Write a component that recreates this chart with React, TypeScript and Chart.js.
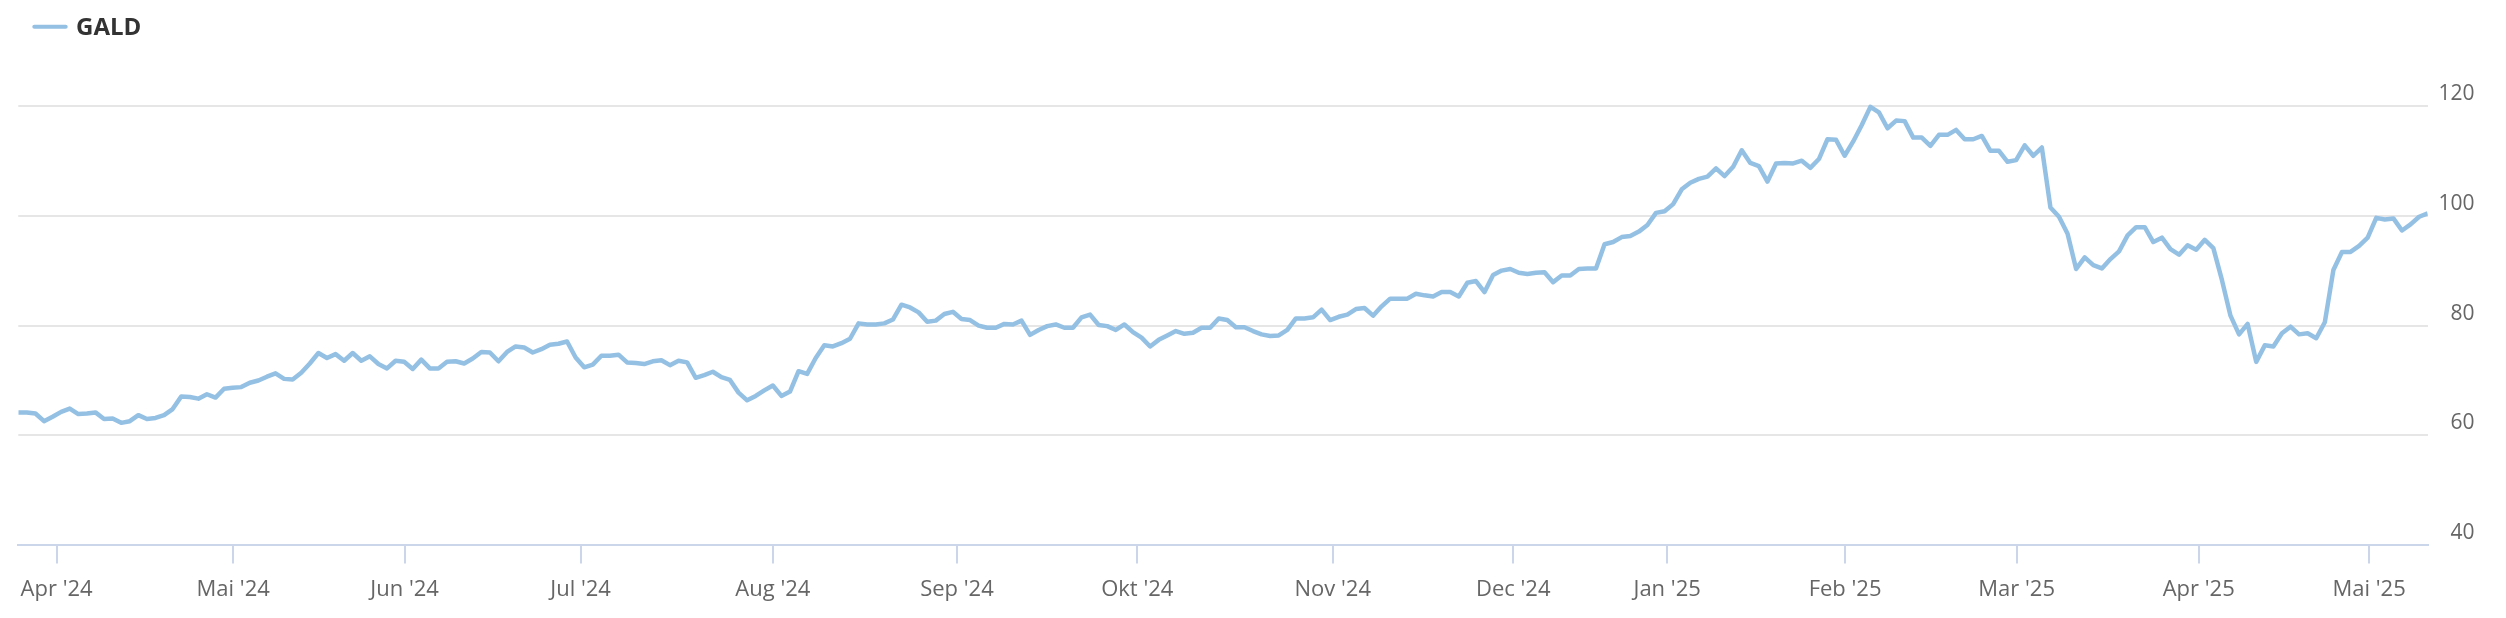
import React, { useEffect, useRef } from 'react';
import { Chart, registerables } from 'chart.js';

Chart.register(...registerables);

const seriesName = 'GALD';

const prices: number[] = [
  64.2, 64.2, 64.0, 62.6, 63.4, 64.3, 64.9, 63.9, 64.0, 64.2,
  63.0, 63.1, 62.3, 62.6, 63.7, 63.0, 63.2, 63.7, 64.8, 67.1,
  67.0, 66.7, 67.5, 66.9, 68.5, 68.7, 68.8, 69.6, 70.0, 70.7,
  71.3, 70.3, 70.2, 71.4, 73.1, 75.0, 74.1, 74.8, 73.6, 75.0,
  73.6, 74.4, 73.0, 72.2, 73.6, 73.4, 72.1, 73.8, 72.2, 72.2,
  73.4, 73.5, 73.1, 74.0, 75.2, 75.1, 73.5, 75.2, 76.2,
  76.0, 75.1, 75.7, 76.5, 76.7, 77.1, 74.2, 72.4, 72.9, 74.5,
  74.5, 74.7, 73.3, 73.2, 73.0, 73.5, 73.7, 72.8, 73.6, 73.3,
  70.5, 71.0, 71.6, 70.6, 70.1, 67.8, 66.4, 67.2, 68.2, 69.1,
  67.2, 68.0, 71.7, 71.2, 74.1, 76.4, 76.2, 76.8, 77.6, 80.4,
  80.2, 80.2, 80.4, 81.1, 83.8, 83.3, 82.4, 80.7, 80.9, 82.1,
  82.5, 81.2, 81.0, 80.0, 79.6, 79.6, 80.3, 80.2, 80.9, 78.3,
  79.2, 79.9, 80.2, 79.6, 79.6, 81.5, 82.0, 80.1, 79.9, 79.2,
  80.2, 78.8, 77.8, 76.2, 77.4, 78.2, 79.0, 78.5, 78.7, 79.6,
  79.6, 81.3, 81.0, 79.7, 79.7, 79.0, 78.4, 78.1, 78.2, 79.2,
  81.3, 81.3, 81.5, 82.9, 81.0, 81.6, 82.0, 83.0, 83.2, 81.8,
  83.5, 84.9, 84.9, 84.9, 85.8, 85.5, 85.3, 86.1, 86.1, 85.3,
  87.8, 88.1, 86.1,
  89.2, 90.0, 90.3, 89.6, 89.4,
  89.6, 89.7, 87.9, 89.1, 89.1, 90.3, 90.4, 90.4, 94.8, 95.2,
  96.1, 96.3, 97.1, 98.3, 100.5, 100.8, 102.1, 104.8, 106.0, 106.7,
  107.1, 108.6, 107.2, 108.9, 111.9, 109.6, 109.0, 106.2, 109.5, 109.6,
  109.5, 110.0, 108.7, 110.3, 113.9, 113.8, 110.9, 113.5, 116.5, 119.8,
  118.8, 115.9, 117.3, 117.2, 114.2, 114.2, 112.7, 114.7, 114.7, 115.6,
  113.9, 113.9, 114.5, 111.8, 111.8, 109.8, 110.1, 112.8, 110.9, 112.4,
  101.5, 99.8, 96.7, 90.3, 92.4, 91.0, 90.4, 92.1, 93.5, 96.4,
  97.9, 97.9, 95.2, 96.0, 93.9, 92.9, 94.6, 93.8, 95.6, 94.1,
  88.3, 81.8, 78.4, 80.3, 73.4, 76.4, 76.2, 78.6, 79.8, 78.4,
  78.6, 77.7, 80.6, 90.1, 93.4, 93.4, 94.5, 96.0, 99.6, 99.3,
  99.5, 97.3, 98.4, 99.8, 100.4,
];

const xTickPositions: number[] = [4.47, 25.06, 45.05, 65.58, 88.0, 109.47, 130.5, 153.3, 174.35, 192.3, 213.05, 233.06, 254.29, 274.17];
const xTickLabels: string[] = ["Apr '24", "Mai '24", "Jun '24", "Jul '24", "Aug '24", "Sep '24", "Okt '24", "Nov '24", "Dec '24", "Jan '25", "Feb '25", "Mar '25", "Apr '25", "Mai '25"];
const yTickValues: number[] = [40, 60, 80, 100, 120];

const W = 2506;
const H = 618;
const PLOT_LEFT = 18.3;
const PLOT_RIGHT = 2427.7;
const PLOT_BOTTOM = 545.4;
const Y_MIN = 40;
const Y_MAX = 139.24;
const Y_LABEL_RIGHT = 2474.5;
const Y_LABEL_RAISE = 12;
const FONT = "'Open Sans', sans-serif";
const LINE_COLOR = '#94c0e4';
const Y_FONT_SIZE = 21;
const X_FONT_SIZE = 22;

const overlayPlugin = {
  id: 'legendAndYLabels',
  afterDraw(chart: any) {
    const ctx = chart.ctx as CanvasRenderingContext2D;
    ctx.save();
    // legend
    ctx.strokeStyle = LINE_COLOR;
    ctx.lineWidth = 4;
    ctx.lineCap = 'round';
    ctx.beginPath();
    ctx.moveTo(34.3, 26.7);
    ctx.lineTo(65.7, 26.7);
    ctx.stroke();
    ctx.fillStyle = '#333333';
    ctx.font = `bold 24px ${FONT}`;
    ctx.textAlign = 'left';
    ctx.textBaseline = 'alphabetic';
    ctx.fillText(chart.data.datasets[0].label, 76, 35);
    // y-axis labels, placed through the y scale
    const yScale = chart.scales.y;
    ctx.fillStyle = '#666666';
    ctx.font = `${Y_FONT_SIZE}px ${FONT}`;
    ctx.textAlign = 'right';
    ctx.textBaseline = 'middle';
    yScale.ticks.forEach((t: any) => {
      const py = yScale.getPixelForValue(t.value) - Y_LABEL_RAISE;
      ctx.fillText(String(t.value), Y_LABEL_RIGHT, py);
    });
    ctx.restore();
  },
};

export default function App() {
  const canvasRef = useRef<HTMLCanvasElement | null>(null);

  useEffect(() => {
    const canvas = canvasRef.current;
    if (!canvas) return;

    const chart = new Chart(canvas, {
      type: 'line',
      data: {
        datasets: [
          {
            label: seriesName,
            data: prices.map((v, i) => ({ x: i, y: v })),
            borderColor: LINE_COLOR,
            borderWidth: 4.5,
            borderJoinStyle: 'round',
            pointRadius: 0,
            fill: false,
            tension: 0,
          },
        ],
      },
      options: {
        responsive: false,
        animation: false,
        devicePixelRatio: 1,
        layout: { padding: { left: PLOT_LEFT, right: 0, top: 0, bottom: 0 } },
        plugins: { legend: { display: false }, tooltip: { enabled: false } },
        scales: {
          x: {
            type: 'linear',
            position: 'bottom',
            min: 0,
            max: prices.length - 1,
            afterBuildTicks: (s: any) => {
              s.ticks = xTickPositions.map((v) => ({ value: v }));
            },
            afterFit: (s: any) => {
              s.height = H - PLOT_BOTTOM;
              s.paddingLeft = 0;
              s.paddingRight = 0;
              s.paddingTop = 0;
              s.paddingBottom = 0;
            },
            grid: {
              display: true,
              drawOnChartArea: false,
              drawTicks: true,
              tickLength: 18,
              tickColor: '#ccd6eb',
              tickWidth: 2,
              lineWidth: 2,
              color: '#ccd6eb',
            },
            border: { display: true, color: '#ccd6eb', width: 2 },
            ticks: {
              autoSkip: false,
              maxRotation: 0,
              minRotation: 0,
              padding: 13,
              color: '#666666',
              font: { family: FONT, size: X_FONT_SIZE },
              callback: (_v: any, i: number) => xTickLabels[i],
            },
          },
          y: {
            type: 'linear',
            position: 'right',
            min: Y_MIN,
            max: Y_MAX,
            afterBuildTicks: (s: any) => {
              s.ticks = yTickValues.map((v) => ({ value: v }));
            },
            afterFit: (s: any) => {
              s.width = W - PLOT_RIGHT;
              s.paddingTop = 0;
              s.paddingBottom = 0;
            },
            grid: { color: '#e6e6e6', lineWidth: 2, drawTicks: false },
            border: { display: false },
            ticks: { display: false },
          },
        },
      } as any,
      plugins: [overlayPlugin],
    });

    return () => {
      chart.destroy();
    };
  }, []);

  return (
    <div style={{ position: 'fixed', left: 0, top: 0, width: W, height: H, background: '#ffffff' }}>
      <canvas ref={canvasRef} width={W} height={H} style={{ display: 'block' }} />
    </div>
  );
}
